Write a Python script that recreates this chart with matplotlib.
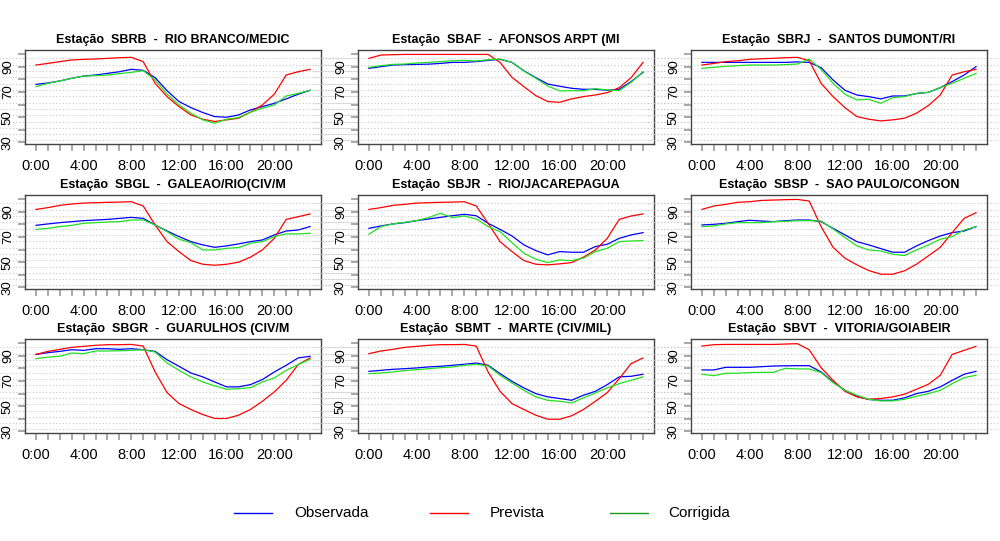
import numpy as np
import matplotlib
matplotlib.use("Agg")
import matplotlib.pyplot as plt
from matplotlib.lines import Line2D

plt.rcParams['font.family'] = ['Liberation Sans', 'DejaVu Sans']

# -----------------------------
# Dados (umidade relativa horária, %)
# -----------------------------
horas = list(range(24))
rotulos_x = [f"{h}:00" if h % 4 == 0 else "" for h in horas]
ticks_y = [30, 40, 50, 60, 70, 80, 90, 100]
rotulos_y = ["30", "", "50", "", "70", "", "90", ""]

titulos = [
    "Estação  SBRB  -  RIO BRANCO/MEDIC",
    "Estação  SBAF  -  AFONSOS ARPT (MI",
    "Estação  SBRJ  -  SANTOS DUMONT/RI",
    "Estação  SBGL  -  GALEAO/RIO(CIV/M",
    "Estação  SBJR  -  RIO/JACAREPAGUA",
    "Estação  SBSP  -  SAO PAULO/CONGON",
    "Estação  SBGR  -  GUARULHOS (CIV/M",
    "Estação  SBMT  -  MARTE (CIV/MIL)",
    "Estação  SBVT  -  VITORIA/GOIABEIR",
]

observada = [
    [76, 77.1, 78.7, 80.8, 82.6, 83.4, 84.7, 86, 87.9, 87.1, 81.3, 71, 62.4, 57.6, 53.7, 50.5, 50, 51.8, 55.8, 58.4, 61, 64.5, 68.2, 71.3],
    [88.7, 90, 91.3, 91.6, 91.8, 92, 92.6, 93.4, 93.4, 94, 95, 95.8, 93.4, 86.8, 81.3, 76.3, 74.5, 72.9, 72.1, 72.1, 71.3, 72.1, 78.2, 85.5],
    [93.4, 93.4, 93.4, 93.4, 93.4, 93.4, 93.4, 93.4, 93.8, 93.4, 89.2, 79.5, 71.3, 67.6, 66.3, 64.5, 66.8, 66.8, 68.7, 69.7, 73.4, 78.2, 83.4, 90],
    [79.2, 80.3, 81.3, 82.1, 82.9, 83.4, 83.9, 84.7, 85.5, 84.7, 79.5, 74.7, 70.3, 66.3, 63.7, 61.8, 62.9, 64.5, 66.3, 67.6, 71.6, 74.7, 75.5, 78.2],
    [76.8, 78.7, 80.3, 81.3, 82.9, 84.2, 85.5, 86.8, 87.9, 86.8, 80.8, 76, 70.8, 63.7, 59.2, 55.8, 58.4, 57.9, 57.9, 62.4, 64.2, 68.9, 71.6, 73.4],
    [79.5, 80, 80.8, 82.1, 83.2, 82.6, 82.1, 82.9, 83.4, 83.4, 82.1, 76.8, 71.6, 66.3, 63.7, 60.8, 57.9, 57.9, 62.9, 67.1, 70.8, 73.4, 74.7, 78.2],
    [91, 92.4, 93.4, 94.7, 94.2, 95.5, 95.5, 95, 95.5, 94.7, 93.4, 86.8, 81.6, 76.3, 73.2, 69.2, 65.3, 65.3, 67.1, 71.1, 77.1, 82.4, 88.2, 89.5],
    [77.6, 78.4, 79.2, 79.7, 80.3, 81.1, 81.6, 82.4, 83.2, 84.2, 82.4, 75.8, 69.7, 64.5, 60, 57.4, 56.1, 54.7, 58.7, 61.8, 67.1, 73.2, 73.7, 75.3],
    [78.7, 78.7, 80.8, 80.8, 80.8, 81.3, 81.8, 82, 82.1, 82.1, 77.1, 69.2, 62.6, 57.9, 55.3, 54.7, 54.7, 56.6, 60, 61.8, 65.3, 70.5, 75.3, 77.6],
]

prevista = [
    [91.3, 92.6, 94, 95.3, 95.8, 96.1, 96.6, 97.1, 97.4, 94, 76.8, 66.3, 58.4, 51.8, 48.4, 46.6, 47.9, 49.2, 54, 59.7, 68.2, 83.4, 86, 87.9],
    [96.6, 99.2, 99.5, 99.7, 99.7, 99.7, 99.7, 99.7, 99.7, 99.7, 99.7, 93.4, 81.6, 74.2, 67.1, 62.4, 61.8, 64.5, 66.3, 67.6, 69.5, 73.4, 81.3, 93.4],
    [91.3, 92.6, 94, 94.7, 95.8, 96.3, 96.6, 97.1, 97.4, 94.7, 76.8, 66.3, 57.6, 50.5, 48.4, 47.1, 47.9, 49.2, 53.2, 59.2, 67.6, 83.4, 86, 87.9],
    [91.8, 93.2, 95, 96.1, 96.8, 97.1, 97.4, 97.6, 97.9, 94.5, 79.5, 66.3, 58.4, 51.3, 48.4, 47.6, 48.4, 50, 54, 59.7, 68.9, 83.9, 86, 88.2],
    [91.8, 93.2, 95, 95.8, 96.8, 97.1, 97.4, 97.6, 97.9, 94.5, 80.8, 66.3, 58.4, 51.3, 48.4, 47.9, 48.7, 49.7, 54, 59.7, 68.9, 83.9, 86.6, 88.2],
    [91.8, 94.5, 95.8, 97.4, 97.9, 98.9, 99.2, 99.5, 99.7, 98.4, 78.2, 61.8, 53.2, 47.9, 43.4, 40.5, 40.5, 43.2, 48.4, 55, 61.8, 73.4, 84.7, 89.2],
    [91, 93.4, 95, 96.6, 97.4, 98.2, 98.7, 98.7, 98.9, 97.6, 77.1, 60.8, 52.1, 47.4, 43.4, 40.3, 40.3, 42.9, 47.4, 53.9, 61.3, 70.5, 82.9, 88.2],
    [91.6, 93.7, 95, 96.6, 97.4, 98.2, 98.7, 98.7, 98.9, 97.6, 77.1, 61.8, 52.1, 47.4, 42.9, 39.7, 39.7, 42.4, 47.4, 53.9, 60.8, 71.8, 83.7, 88.2],
    [97.6, 98.7, 98.9, 98.9, 98.9, 98.9, 98.9, 99.2, 99.5, 94.7, 80.5, 70.5, 61.8, 57.4, 55.5, 56.1, 57.4, 59.5, 63.4, 67.4, 74.5, 91, 94.2, 97.4],
]

corrigida = [
    [74.2, 76.8, 78.7, 80.8, 82.6, 82.9, 83.4, 84.5, 85.5, 86.8, 79.5, 68.4, 59.7, 53.2, 47.9, 45.3, 48.4, 49.7, 54, 57.1, 59.7, 66.8, 68.9, 71.3],
    [89.5, 90.8, 91.8, 92.1, 92.9, 93.4, 94, 94.7, 95, 94.5, 95.5, 96, 93.4, 86.6, 80.8, 74.7, 70.8, 71, 71, 72.6, 71.6, 71, 77.6, 86.1],
    [88.7, 89.5, 90.3, 90.8, 91.3, 91.3, 91.3, 91.6, 92.1, 96, 87.9, 76.8, 68.2, 63.7, 64.2, 61, 65.5, 66.3, 68.9, 69.7, 73.4, 76.8, 80.8, 84.7],
    [76, 76.8, 78.2, 79.2, 80.8, 81.3, 81.8, 82.1, 83.4, 83.4, 79.5, 74.2, 68.2, 65.5, 59.7, 59.7, 61, 61.6, 65, 66.3, 70.3, 72.4, 72.4, 72.9],
    [72.1, 78.2, 80.3, 81.6, 82.9, 85.3, 88.7, 85.3, 86.6, 84.2, 78.2, 74.2, 65.5, 57.1, 52.4, 49.7, 51.8, 51.3, 53.2, 58.4, 61, 66.3, 66.8, 67.1],
    [78.2, 78.7, 80.3, 81.3, 81.3, 81.3, 82.1, 82.4, 82.9, 82.9, 82.6, 76.3, 69.5, 62.9, 59.7, 58.9, 56.3, 55.3, 59.7, 63.7, 68.2, 70.3, 75.5, 78.2],
    [87.6, 88.9, 89.5, 92.1, 91.6, 93.7, 93.7, 93.9, 94.2, 94.7, 92.9, 84.2, 78.4, 73.2, 69.2, 66.1, 63.4, 63.9, 64.7, 69.2, 72.4, 78.4, 82.9, 87.1],
    [75.8, 76.3, 77.1, 78.2, 78.9, 79.7, 80.5, 81.1, 82.4, 83.2, 81.8, 74.5, 68.4, 62.6, 57.4, 54.7, 53.9, 52.6, 56.6, 60.5, 64.5, 67.9, 70.5, 73.2],
    [75.3, 74.2, 76.1, 76.1, 76.6, 76.8, 76.8, 80, 79.5, 79.5, 76.6, 68.7, 62.6, 58.7, 55.5, 54.2, 54.2, 55.5, 57.9, 60, 62.6, 67.9, 72.6, 74.5],
]

linhas_grade = [96.6, 91.6, 86.6, 81.6, 76.6, 71.6, 66.6, 61.6, 56.6, 51.6, 46.6, 41.6, 36.6, 31.6]

# -----------------------------
# Figura 3x3 estilo R
# -----------------------------
fig = plt.figure(figsize=(10, 5.41), dpi=100)

esquerdas = [25, 358, 691]
largura = 296
topos = [50, 195, 339]
altura = 94

for i in range(9):
    lin, col = divmod(i, 3)
    x0 = esquerdas[col] / 1000
    y0 = 1 - (topos[lin] + altura) / 541
    ax = fig.add_axes([x0, y0, largura / 1000, altura / 541])

    # grade pontilhada atravessando a figura
    for g in linhas_grade:
        ax.axhline(g, xmin=-0.15, xmax=1.15, color="#c8c8c8", lw=0.8,
                   ls=(0, (1, 2)), clip_on=False, zorder=0)

    ax.plot(horas, observada[i], color="blue", lw=0.9)
    ax.plot(horas, prevista[i], color="red", lw=0.9)
    ax.plot(horas, corrigida[i], color="#22e022", lw=0.9)

    ax.set_xlim(-0.92, 23.92)
    ax.set_ylim(28.8, 103.2)
    ax.set_xticks(horas)
    ax.set_xticklabels(rotulos_x, fontsize=10.5)
    ax.set_yticks(ticks_y)
    ax.set_yticklabels(rotulos_y, fontsize=9.5, rotation=90, va="center")
    ax.tick_params(axis="both", direction="out", length=5, width=1.2,
                   color="#999999", pad=3)
    ax.tick_params(axis="x", pad=6)
    for sp in ax.spines.values():
        sp.set_color("#444444")
        sp.set_linewidth(1)
    ax.set_title(titulos[i], fontsize=9, fontweight="bold", pad=5)

# -----------------------------
# Legenda
# -----------------------------
itens = [("Observada", "blue", 234, 294),
         ("Prevista", "red", 430, 490),
         ("Corrigida", "#1a9a1a", 610, 668)]
ylg = 1 - 513 / 541
for nome, cor, xl, xt in itens:
    fig.add_artist(Line2D([xl / 1000, (xl + 38) / 1000], [ylg, ylg], color=cor, lw=1))
    fig.text(xt / 1000, ylg, nome, fontsize=11, va="center", ha="left")

plt.savefig("out.png", dpi=100)
